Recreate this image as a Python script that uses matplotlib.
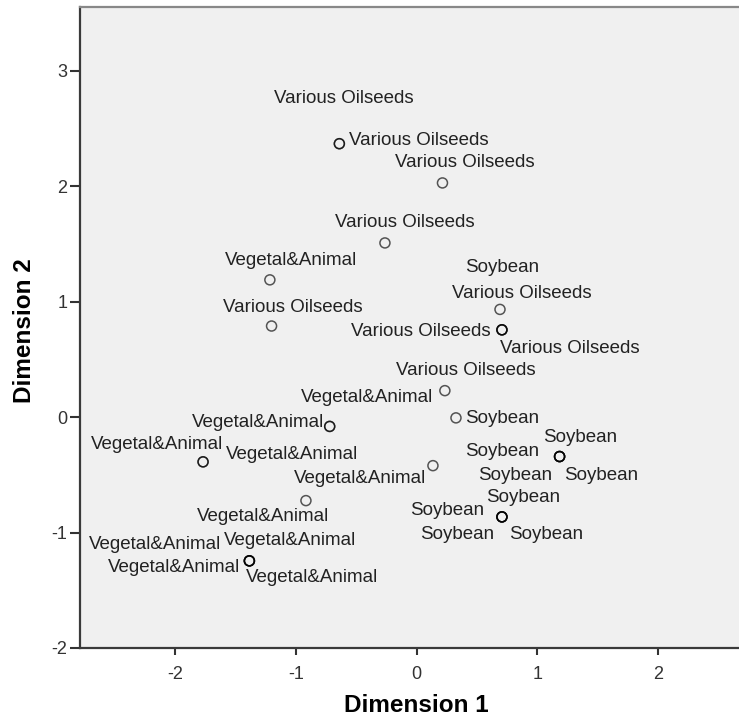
import matplotlib
matplotlib.use('Agg')
import matplotlib.pyplot as plt

plt.rcParams['font.family'] = ['Liberation Sans', 'DejaVu Sans']
plt.rcParams['axes.unicode_minus'] = False

# object scores (overlapping objects share coordinates)
dim1 = [-0.64, -0.64, 0.215, -0.262, -1.216, 0.692,
        0.708, 0.708, 0.708, -1.202, 0.235, 0.327,
        -0.72, -0.72, -1.77, -1.77, 0.136, -0.917,
        1.186, 1.186, 1.186, 1.186,
        0.708, 0.708, 0.708, 0.708,
        -1.386, -1.386, -1.386, -1.386]
dim2 = [2.37, 2.37, 2.03, 1.51, 1.19, 0.934,
        0.757, 0.757, 0.757, 0.79, 0.23, -0.006,
        -0.08, -0.08, -0.387, -0.387, -0.42, -0.723,
        -0.341, -0.341, -0.341, -0.341,
        -0.864, -0.864, -0.864, -0.864,
        -1.245, -1.245, -1.245, -1.245]
labels = ['Various Oilseeds', 'Various Oilseeds', 'Various Oilseeds', 'Various Oilseeds',
          'Vegetal&Animal', 'Various Oilseeds',
          'Soybean', 'Various Oilseeds', 'Various Oilseeds', 'Various Oilseeds',
          'Various Oilseeds', 'Soybean',
          'Vegetal&Animal', 'Vegetal&Animal', 'Vegetal&Animal', 'Vegetal&Animal',
          'Vegetal&Animal', 'Vegetal&Animal',
          'Soybean', 'Soybean', 'Soybean', 'Soybean',
          'Soybean', 'Soybean', 'Soybean', 'Soybean',
          'Vegetal&Animal', 'Vegetal&Animal', 'Vegetal&Animal', 'Vegetal&Animal']

# where each label sits relative to its point (pixels)
label_offsets = [(4, 45), (79, 3), (22, 20), (20, 20), (21, 19), (22, 16),
                 (0, 62), (-81, -2), (68, -19), (21, 19), (21, 20), (46, -1),
                 (37, 29), (-72, 4), (-46, 17), (89, 7), (-73, -13), (-43, -16),
                 (21, 19), (-57, 5), (-44, -19), (42, -19),
                 (21, 19), (-55, 6), (-45, -18), (44, -18),
                 (-94, 16), (41, 20), (-75, -7), (63, -17)]

fig = plt.figure(figsize=(7.39, 7.24), dpi=100)
ax = fig.add_axes([0.1083, 0.105, 0.9107, 0.8854])
ax.set_facecolor('#f0f0f0')

ax.scatter(dim1, dim2, s=52, facecolors='none', edgecolors='black',
           linewidths=1.1, alpha=0.65, zorder=3)

for x, y, lab, (dx, dy) in zip(dim1, dim2, labels, label_offsets):
    ax.annotate(lab, (x, y), xytext=(dx, dy), textcoords='offset pixels',
                ha='center', va='center', fontsize=13.5, color='#222222')

ax.set_xlim(-2.79, 2.79)
ax.set_ylim(-2.0, 3.555)
ax.set_xticks([-2, -1, 0, 1, 2])
ax.set_yticks([-2, -1, 0, 1, 2, 3])

for sp in ax.spines.values():
    sp.set_linewidth(1.6)
    sp.set_color('#3a3a3a')
ax.spines['top'].set_color('#888888')

ax.tick_params(axis='x', direction='out', length=5, width=1.5, color='#333333',
               labelsize=13, labelcolor='#333333', pad=8)
ax.tick_params(axis='y', direction='out', length=7, width=1.5, color='#333333',
               labelsize=13, labelcolor='#333333', pad=2)

ax.set_xlabel('Dimension 1', fontsize=17.5, fontweight='bold', labelpad=8)
ax.set_ylabel('Dimension 2', fontsize=17.5, fontweight='bold')
ax.yaxis.set_label_coords(-0.065, 0.495)

fig.savefig('out.png', dpi=100)
